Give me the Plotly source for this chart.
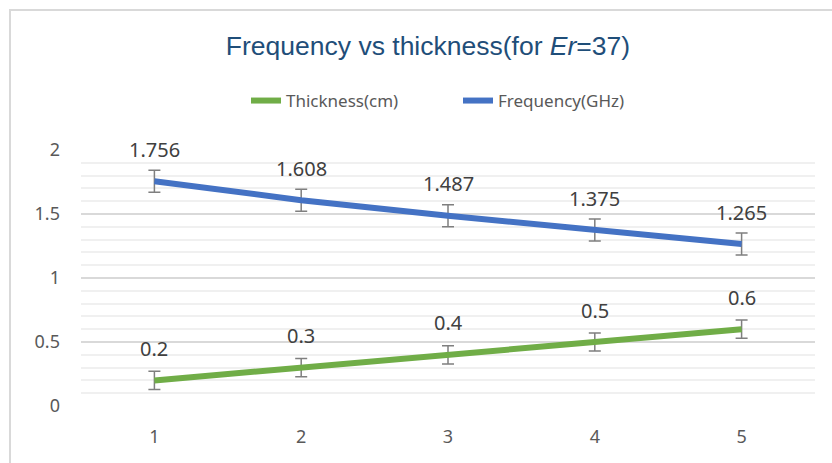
import plotly.graph_objects as go

categories = [1, 2, 3, 4, 5]
thickness_cm = [0.2, 0.3, 0.4, 0.5, 0.6]
frequency_ghz = [1.756, 1.608, 1.487, 1.375, 1.265]
thickness_err = [0.071, 0.071, 0.071, 0.071, 0.071]
frequency_err = [0.086, 0.086, 0.086, 0.086, 0.086]
y_ticks = [0, 0.5, 1, 1.5, 2]
y_tick_labels = ["0", "0.5", "1", "1.5", "2"]

txt_font = "Noto Sans, sans-serif"

fig = go.Figure()
fig.add_trace(go.Scatter(
    x=categories, y=thickness_cm, mode="lines", name="Thickness(cm)",
    line=dict(color="#70AD47", width=6),
    error_y=dict(type="data", array=thickness_err, visible=True,
                 color="#7F7F7F", thickness=1.5, width=6),
))
fig.add_trace(go.Scatter(
    x=categories, y=frequency_ghz, mode="lines", name="Frequency(GHz)",
    line=dict(color="#4472C4", width=6),
    error_y=dict(type="data", array=frequency_err, visible=True,
                 color="#7F7F7F", thickness=1.5, width=6),
))

annotations = []
for series in (thickness_cm, frequency_ghz):
    for xv, yv in zip(categories, series):
        annotations.append(dict(
            x=xv, y=yv, text=f"{yv:g}", showarrow=False, yshift=32,
            font=dict(family=txt_font, size=20, color="#404040"),
        ))

fig.update_layout(
    width=832, height=463,
    margin=dict(l=81, r=17, t=150, b=57),
    paper_bgcolor="white", plot_bgcolor="white",
    title=dict(text="Frequency vs thickness(for <i>Er</i>=37)",
               x=428 / 832, xanchor="center", y=1 - 46 / 463, yanchor="middle",
               xref="container", yref="container",
               font=dict(family="Liberation Sans, Arial, sans-serif", size=26.5,
                         color="#1F4E79")),
    legend=dict(orientation="h", x=458 / 832, xanchor="center",
                y=1 - 101 / 463, yanchor="middle", xref="container",
                yref="container", entrywidth=167, entrywidthmode="pixels",
                font=dict(family=txt_font, size=17, color="#595959"),
                tracegroupgap=0),
    showlegend=True,
    annotations=annotations,
    xaxis=dict(range=[0.5, 5.5], tickmode="array", tickvals=categories,
               ticktext=[str(c) for c in categories], showgrid=False,
               zeroline=False, showline=False, ticks="", automargin=False,
               tickfont=dict(family=txt_font, size=18, color="#595959"),
               ticklabelstandoff=18),
    yaxis=dict(range=[0, 2], tickmode="array", tickvals=y_ticks,
               ticktext=y_tick_labels, showgrid=True, gridcolor="#D9D9D9",
               gridwidth=1.5, zeroline=False, showline=False, ticks="",
               automargin=False,
               tickfont=dict(family=txt_font, size=18, color="#595959"),
               ticklabelstandoff=20,
               minor=dict(dtick=0.1, showgrid=True, gridcolor="#F0F0F0",
                          gridwidth=1.5)),
    shapes=[dict(type="rect", xref="paper", yref="paper",
                 x0=(10 - 81) / 734, x1=1.2, y0=-0.5, y1=(406 - 10) / 256,
                 line=dict(color="#D9D9D9", width=2), layer="below")],
)

fig.write_html("out.html", config={"displayModeBar": False},
               post_script="document.body.style.margin='0';document.body.style.overflow='hidden';")
